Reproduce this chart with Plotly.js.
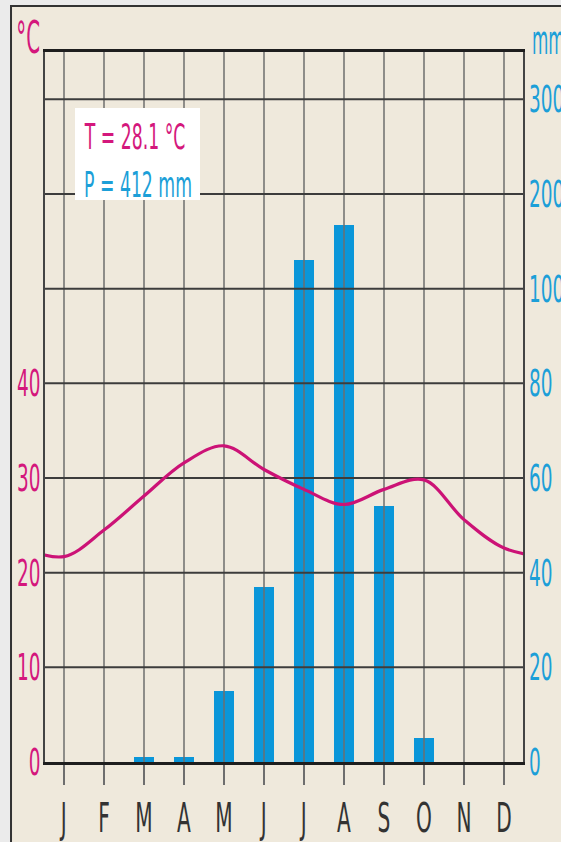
<!DOCTYPE html>
<html>
<head>
<meta charset="utf-8">
<script src="https://cdn.plot.ly/plotly-3.0.1.min.js"></script>
<style>
  html, body { margin: 0; padding: 0; background: #ebebeb; }
  #chart { width: 561px; height: 842px; }
</style>
</head>
<body>
<div id="chart"></div>
<script>
// ---- data ----
const months = ['J', 'F', 'M', 'A', 'M', 'J', 'J', 'A', 'S', 'O', 'N', 'D'];
const tempC = [21.7, 24.5, 28.1, 31.6, 33.4, 30.9, 28.8, 27.2, 28.8, 29.8, 25.6, 22.6];
const precipMm = [0, 0, 1, 1, 15, 37, 130, 167, 54, 5, 0, 0];
const tempTicks = [0, 10, 20, 30, 40];
const precipTicks = [0, 20, 40, 60, 80, 100, 200, 300];
const meanTempLabel = 'T = 28.1 °C';
const totalPrecipLabel = 'P = 412 mm';

// ---- styling ----
const FONT = '"DejaVu Sans", sans-serif';
const MAGENTA = '#d4177c';
const CURVE = '#cc1276';
const BLUE_TXT = '#1c9fd8';
const BLUE_BAR = '#0a96d9';
const GRID_H = '#3c3c3c';
const GRID_V = '#6e6e6e';

// Precipitation scale of the diagram: 20 mm per 10 °C up to 100 mm, then 100 mm per 10 °C
function precipToAxis(p) {
  return p <= 100 ? p / 2 : 50 + (p - 100) / 10;
}
const yTop = 75;
const idx = months.map((m, i) => i);
const gridY = precipTicks.map(precipToAxis);

const barTrace = {
  type: 'bar',
  x: idx,
  y: precipMm.map(precipToAxis),
  customdata: precipMm,
  width: 0.5,
  marker: { color: BLUE_BAR, line: { width: 0 } },
  hovertemplate: '%{customdata} mm<extra></extra>',
  showlegend: false
};

// grid lines drawn over the bars (as in the reference)
const gxV = [], gyV = [];
idx.forEach(i => { gxV.push(i, i, null); gyV.push(0, yTop, null); });
const gridTraceV = {
  type: 'scatter', mode: 'lines', x: gxV, y: gyV,
  line: { color: GRID_V, width: 1.5 },
  hoverinfo: 'skip', showlegend: false
};
const gxH = [], gyH = [];
gridY.slice(1).forEach(v => { gxH.push(-1, 12, null); gyH.push(v, v, null); });
const gridTraceH = {
  type: 'scatter', mode: 'lines', x: gxH, y: gyH,
  line: { color: GRID_H, width: 2 },
  hoverinfo: 'skip', showlegend: false
};

// temperature curve (cyclic: December before January, January after December)
const tempTrace = {
  type: 'scatter', mode: 'lines',
  x: [-1].concat(idx, [12]),
  y: [tempC[11]].concat(tempC, [tempC[0]]),
  line: { color: CURVE, width: 3.2, shape: 'spline', smoothing: 1 },
  hovertemplate: '%{y} °C<extra></extra>',
  showlegend: false
};

const layout = {
  width: 561, height: 842,
  margin: { l: 45, r: 38, t: 52, b: 80, pad: 0 },
  paper_bgcolor: '#ebebeb',
  plot_bgcolor: '#ffffff',
  font: { family: FONT },
  showlegend: false,
  bargap: 0,
  xaxis: {
    range: [-0.475, 11.475],
    tickmode: 'array', tickvals: idx, ticktext: months,
    ticks: 'outside', ticklen: 20, tickwidth: 1.5, tickcolor: GRID_V,
    ticklabelstandoff: 6,
    tickfont: { family: FONT, size: 28, color: '#333333' },
    showgrid: false, zeroline: false,
    showline: true, linecolor: '#1e1e1e', linewidth: 3, mirror: true,
    fixedrange: true
  },
  yaxis: {
    range: [0, yTop],
    tickmode: 'array', tickvals: tempTicks, ticktext: tempTicks.map(String),
    ticks: '', ticklabelstandoff: 2,
    tickfont: { family: FONT, size: 28, color: MAGENTA },
    showgrid: false, zeroline: false,
    showline: true, linecolor: '#444444', linewidth: 2, mirror: true,
    fixedrange: true
  },
  yaxis2: {
    overlaying: 'y', side: 'right',
    range: [0, yTop],
    tickmode: 'array', tickvals: gridY, ticktext: precipTicks.map(String),
    ticks: '', ticklabelstandoff: 5,
    tickfont: { family: FONT, size: 28, color: BLUE_TXT },
    showgrid: false, zeroline: false, showline: false,
    fixedrange: true
  },
  shapes: [
    { type: 'rect', xref: 'paper', yref: 'paper', layer: 'below',
      x0: -0.0711, x1: 1.2, y0: -0.2, y1: 1.0648,
      fillcolor: '#efe9dc', line: { color: '#333333', width: 2 } },
    { type: 'rect', xref: 'paper', yref: 'paper', layer: 'above',
      x0: 0.0628, x1: 0.3243, y0: 0.7915, y1: 0.9211,
      fillcolor: '#ffffff', line: { width: 0 } }
  ],
  annotations: [
    { text: '°C', xref: 'paper', yref: 'paper', x: -0.036, y: 1.0197,
      xanchor: 'center', yanchor: 'middle', showarrow: false,
      font: { family: FONT, size: 32, color: MAGENTA } },
    { text: 'mm', xref: 'paper', yref: 'paper', x: 1.0146, y: 1.016,
      xanchor: 'left', yanchor: 'middle', showarrow: false,
      font: { family: FONT, size: 28, color: BLUE_TXT } },
    { text: meanTempLabel, xref: 'paper', yref: 'paper', x: 0.0774, y: 0.8803,
      xanchor: 'left', yanchor: 'middle', showarrow: false,
      font: { family: FONT, size: 24, color: MAGENTA } },
    { text: totalPrecipLabel, xref: 'paper', yref: 'paper', x: 0.0774, y: 0.8127,
      xanchor: 'left', yanchor: 'middle', showarrow: false,
      font: { family: FONT, size: 24, color: BLUE_TXT } }
  ]
};

// The reference uses a tall condensed typeface; emulate it by scaling the real text
function condense(el, sx, sy, pivot, dx, dy) {
  const bb = el.getBBox();
  let ax = bb.x + bb.width / 2;
  if (pivot === 'left') ax = bb.x;
  else if (pivot === 'right') ax = bb.x + bb.width;
  const ay = bb.y + bb.height / 2;
  const prev = el.getAttribute('transform') || '';
  el.setAttribute('transform',
    prev + ' translate(' + (ax + dx) + ',' + (ay + dy) + ') scale(' + sx + ',' + sy + ') translate(' + (-ax) + ',' + (-ay) + ')');
}

Plotly.newPlot('chart',
  [barTrace, gridTraceV, gridTraceH, tempTrace,
   { type: 'scatter', x: [], y: [], yaxis: 'y2', showlegend: false, hoverinfo: 'skip' }],
  layout, { staticPlot: true, displayModeBar: false }
).then(function (gd) {
  gd.querySelectorAll('.xtick text').forEach(t => condense(t, 0.72, 1.45, 'center', 0, 3));
  gd.querySelectorAll('.ytick text').forEach(t => condense(t, 0.66, 1.35, 'right', 5, 0));
  gd.querySelectorAll('.y2tick text').forEach(t => condense(t, 0.66, 1.35, 'left', 0, 0));
  gd.querySelectorAll('.annotation text').forEach(t => {
    const s = t.textContent;
    if (s === '°C') condense(t, 0.62, 1.4, 'center', 0, 0);
    else if (s === 'mm') condense(t, 0.6, 1.45, 'left', 0, 0);
    else condense(t, 0.72, 1.5, 'left', 0, 0);
  });
});
</script>
</body>
</html>
